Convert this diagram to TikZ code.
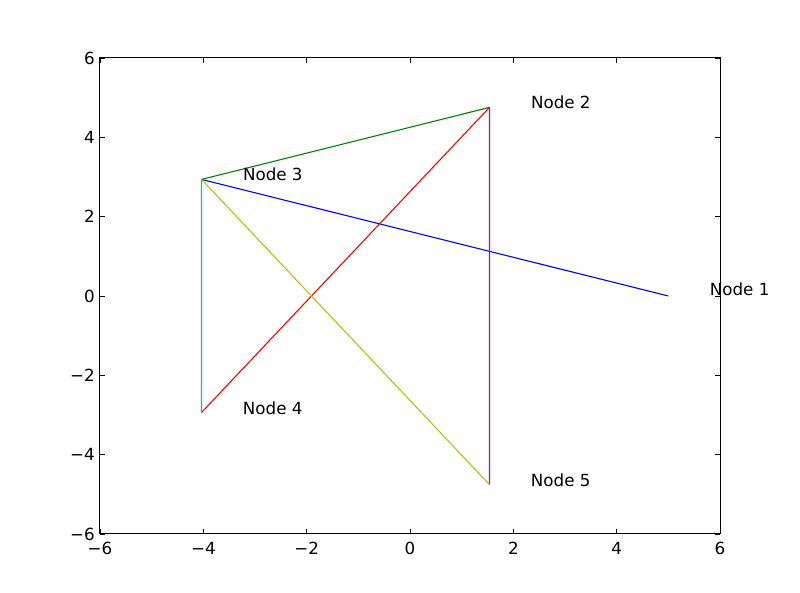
\documentclass[tikz,border=0pt]{standalone}
\usepackage{fontspec}
\setmainfont{DejaVu Sans}
\usetikzlibrary{calc}
\definecolor{plotblue}{rgb}{0,0,1}
\definecolor{plotgreen}{rgb}{0,0.5,0}
\definecolor{plotred}{rgb}{1,0,0}
\definecolor{plotcyan}{rgb}{0,0.75,0.75}
\definecolor{plotmagenta}{rgb}{0.75,0,0.75}
\definecolor{plotyellow}{rgb}{0.75,0.75,0}
\begin{document}
\begin{tikzpicture}[x=1pt,y=1pt,
  edge/.style={line width=1.1pt},
  lbl/.style={anchor=base west,inner sep=0pt,font=\fontsize{16.7}{20}\selectfont},
  xtl/.style={anchor=north,inner sep=0pt,font=\fontsize{16.7}{20}\selectfont},
  ytl/.style={anchor=east,inner sep=0pt,font=\fontsize{16.7}{20}\selectfont},
  frame/.style={line width=1pt,black},
  tick/.style={line width=0.8pt,black}]
\useasboundingbox (0,0) rectangle (800,593);
\fill[white] (0,0) rectangle (800,593);
\begin{scope}[shift={(410,297)},x=51.667pt,y=39.667pt]
  \coordinate (n1) at (5,0);
  \coordinate (n2) at (1.5388,4.755);
  \coordinate (n3) at (-4.0353,2.939);
  \coordinate (n4) at (-4.0363,-2.939);
  \coordinate (n5) at (1.5378,-4.755);
  \draw[edge,draw=plotblue] (n1) -- (n3);
  \draw[edge,draw=plotgreen] (n2) -- (n3);
  \draw[edge,draw=plotred] (n2) -- (n4);
  \draw[edge,draw=plotmagenta] (n2) -- (n5);
  \draw[edge,draw=plotcyan] (n3) -- (n4);
  \draw[edge,draw=plotyellow] (n3) -- (n5);
  \node[lbl] (l1) at ($(n1)+(0.8,0)$) {Node 1};
  \node[lbl] (l2) at ($(n2)+(0.8,-0.04)$) {Node 2};
  \node[lbl] (l3) at ($(n3)+(0.8,-0.04)$) {Node 3};
  \node[lbl] (l4) at ($(n4)+(0.8,-0.04)$) {Node 4};
  \node[lbl] (l5) at ($(n5)+(0.8,-0.04)$) {Node 5};
  \draw[frame] (-6,-6) rectangle (6,6);
  \foreach \v/\t in {-6/−6,-4/−4,-2/−2,0/0,2/2,4/4,6/6}{
    \draw[tick] (\v,-6) -- ++(0,5pt);
    \draw[tick] (\v,6) -- ++(0,-5pt);
    \draw[tick] (-6,\v) -- ++(5pt,0);
    \draw[tick] (6,\v) -- ++(-5pt,0);
    \node[xtl] (xt\v) at ([yshift=-8pt]\v,-6) {\t};
    \node[ytl] (yt\v) at ([xshift=-5pt]-6,\v) {\t};
  }
\end{scope}
\end{tikzpicture}
\end{document}
